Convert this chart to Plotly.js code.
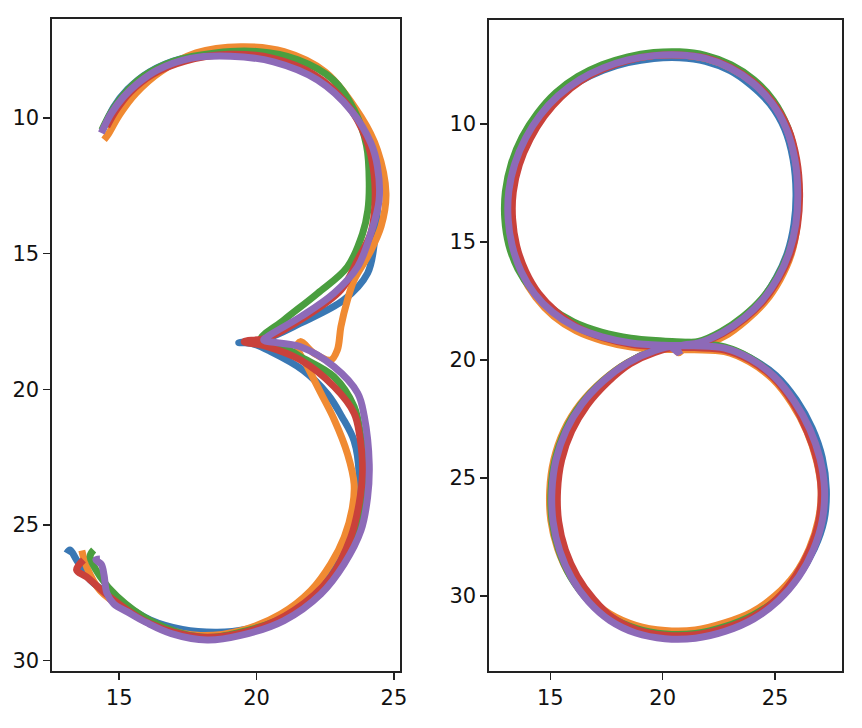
<!DOCTYPE html>
<html>
<head>
<meta charset="utf-8">
<script src="https://cdn.plot.ly/plotly-3.0.1.min.js"></script>
<style>html,body{margin:0;padding:0;background:#fff;}#chart{width:862px;height:728px;}</style>
</head>
<body>
<div id="chart"></div>
<script>
// ---- Digit "3" strokes (left panel) ----
const three_blue_x = [14.4,14.8,15.3,16.1,17.3,18.8,20.4,22.0,23.3,24.05,24.35,24.4,24.3,24.04,23.18,21.6,20.3,19.35,19.8,20.5,21.7,22.6,23.1,23.55,23.73,23.67,23.31,22.22,20.8,19.6,18.57,17.3,16.13,14.92,13.94,13.45,13.21,13.09];
const three_blue_y = [10.45,9.6,8.95,8.3,7.8,7.6,7.75,8.4,9.5,10.8,12.0,13.3,14.5,15.72,16.7,17.56,18.15,18.28,18.3,18.6,19.3,20.2,21.0,21.9,23.12,23.98,25.57,27.42,28.45,28.85,28.95,28.85,28.5,27.76,27.02,26.29,25.92,26.04];

const three_orange_x = [14.45,14.6,15.0,15.6,16.5,17.8,19.42,21.0,22.5,23.8,24.4,24.71,24.53,24.1,23.55,23.31,23.07,22.94,22.7,22.09,21.6,21.48,21.85,22.34,22.82,23.31,23.55,23.49,23.19,22.7,21.97,20.88,19.42,17.96,16.5,15.28,14.31,13.82,13.64];
const three_orange_y = [10.8,10.6,9.9,9.1,8.3,7.6,7.37,7.55,8.3,9.95,11.18,12.78,14.0,15.0,15.97,16.7,17.69,18.55,18.92,18.67,18.24,18.43,19.16,20.14,21.1,22.38,23.49,24.35,25.45,26.43,27.42,28.28,28.89,29.07,28.77,28.15,27.42,26.55,25.94];

const three_green_x = [14.37,14.7,15.2,15.9,17.0,18.5,20.0,21.5,22.8,23.55,24.0,24.1,24.05,23.86,23.31,22.22,21.0,20.15,21.0,21.6,22.81,23.55,23.8,23.92,23.8,23.43,22.58,21.24,19.42,17.96,16.13,14.92,14.31,13.94,14.07];
const three_green_y = [10.44,9.8,9.1,8.45,7.9,7.6,7.55,7.85,8.6,9.7,11.0,12.41,13.4,14.25,15.48,16.46,17.44,18.18,18.45,18.8,19.53,20.64,21.77,23.12,24.6,25.94,27.17,28.28,28.95,29.13,28.52,27.63,26.9,26.16,25.92];

const three_red_x = [14.55,14.9,15.4,16.2,17.4,19.0,20.6,22.1,23.3,24.0,24.28,24.3,24.16,23.68,23.07,21.6,20.4,19.55,20.3,21.6,22.82,23.55,23.75,23.86,23.73,23.43,22.7,21.36,19.78,17.96,16.13,14.67,13.82,13.45,13.7];
const three_red_y = [10.32,9.7,9.05,8.4,7.9,7.65,7.8,8.4,9.5,10.8,12.1,13.3,14.24,15.23,16.34,17.44,18.1,18.24,18.4,18.92,19.9,20.88,21.7,23.0,24.22,25.45,26.92,28.15,28.89,29.13,28.64,27.66,26.92,26.65,26.29];

const three_purple_x = [14.35,14.7,15.16,15.7,16.38,17.59,19.05,20.62,22.22,23.43,24.16,24.4,24.46,24.16,23.68,22.82,21.61,20.39,20.26,21.6,22.81,23.68,23.92,24.1,24.04,23.8,23.19,22.34,21.0,19.42,18.2,16.9,16.0,15.3,14.8,14.55,14.45,14.35,14.15,14.3];
const three_purple_y = [10.55,9.85,9.22,8.7,8.23,7.8,7.72,7.93,8.6,9.71,10.92,11.79,13.02,14.24,15.48,16.45,17.32,18.06,18.18,18.43,19.16,20.14,21.0,22.75,23.98,25.2,26.43,27.54,28.52,29.07,29.24,29.0,28.6,28.2,27.9,27.5,26.85,26.45,26.28,26.25];

// ---- Digit "8" strokes (right panel) ----
const eight_blue_x = [20.55,20.85,21.6,22.6,23.55,24.4,25.05,25.55,25.84,25.93,25.8,25.42,24.77,23.92,23.0,21.9,20.75,19.6,18.45,17.35,16.3,15.35,14.55,13.9,13.42,13.13,13.1,13.28,13.68,14.28,15.08,16.1,17.3,18.6,20.0,21.4,22.75,23.9,25.03,25.95,26.65,27.1,27.28,27.18,26.75,26.05,25.15,24.05,22.8,21.45,20.1,18.8,17.65,16.7,15.95,15.42,15.12,15.07,15.25,15.7,16.4,17.35,18.45,19.6,20.5,20.6];
const eight_blue_y = [19.6,19.35,19.28,18.85,18.22,17.45,16.52,15.45,14.25,12.94,11.5,10.2,9.15,8.35,7.74,7.34,7.19,7.22,7.4,7.72,8.2,8.85,9.65,10.6,11.68,12.85,14.0,15.15,16.25,17.2,17.98,18.6,19.02,19.26,19.35,19.38,19.48,19.92,20.65,21.7,22.9,24.15,25.5,26.8,28.0,29.15,30.12,30.88,31.4,31.7,31.72,31.5,31.0,30.22,29.22,28.1,26.85,25.55,24.25,23.0,21.88,20.9,20.12,19.62,19.45,19.6];

const eight_orange_x = [20.7,21.0,21.65,22.75,23.72,24.55,25.22,25.72,25.98,26.05,25.9,25.52,24.87,24.02,23.0,21.9,20.75,19.6,18.45,17.35,16.3,15.35,14.55,13.9,13.42,13.15,13.13,13.32,13.73,14.35,15.15,16.15,17.33,18.6,20.0,21.4,22.75,23.85,24.88,25.75,26.42,26.85,27.05,26.92,26.52,25.88,25.0,23.95,22.75,21.45,20.1,18.8,17.62,16.65,15.85,15.32,15.02,14.97,15.15,15.6,16.32,17.3,18.42,19.6,20.5,20.7];
const eight_orange_y = [19.7,19.5,19.42,19.0,18.32,17.55,16.6,15.52,14.3,12.96,11.5,10.2,9.1,8.25,7.62,7.22,7.07,7.1,7.28,7.62,8.12,8.8,9.62,10.6,11.7,12.9,14.08,15.25,16.38,17.35,18.15,18.77,19.19,19.45,19.55,19.57,19.65,20.08,20.8,21.85,23.05,24.3,25.55,26.8,28.0,29.1,30.0,30.7,31.15,31.45,31.47,31.25,30.75,30.0,29.1,28.0,26.8,25.55,24.25,23.0,21.88,20.9,20.12,19.62,19.45,19.7];

const eight_green_x = [20.6,20.9,21.6,22.6,23.58,24.42,25.1,25.62,25.95,26.05,25.92,25.55,24.92,24.05,23.05,21.9,20.75,19.6,18.45,17.3,16.22,15.25,14.42,13.75,13.27,13.0,12.97,13.15,13.56,14.17,15.0,16.05,17.27,18.58,20.0,21.4,22.75,23.9,24.92,25.8,26.47,26.92,27.12,27.02,26.62,26.0,25.12,24.02,22.8,21.45,20.1,18.8,17.63,16.66,15.9,15.38,15.08,15.03,15.21,15.66,16.37,17.33,18.44,19.6,20.5,20.6];
const eight_green_y = [19.5,19.28,19.22,18.8,18.16,17.4,16.46,15.4,14.2,12.9,11.45,10.12,9.0,8.12,7.49,7.09,6.94,6.97,7.15,7.49,7.99,8.67,9.55,10.55,11.65,12.85,14.0,15.12,16.15,17.02,17.78,18.4,18.82,19.08,19.2,19.28,19.45,19.92,20.68,21.73,22.95,24.2,25.5,26.8,28.02,29.15,30.12,30.82,31.3,31.6,31.62,31.38,30.88,30.15,29.2,28.08,26.85,25.55,24.25,23.0,21.88,20.9,20.12,19.62,19.45,19.6];

const eight_red_x = [20.6,20.95,21.62,22.68,23.66,24.5,25.17,25.7,26.0,26.09,25.96,25.58,24.9,24.03,23.02,21.9,20.75,19.6,18.47,17.4,16.38,15.48,14.73,14.1,13.62,13.35,13.32,13.5,13.9,14.48,15.27,16.22,17.38,18.65,20.03,21.42,22.77,23.9,24.93,25.78,26.4,26.85,27.05,26.95,26.55,25.92,25.08,24.02,22.8,21.45,20.12,18.85,17.77,16.93,16.2,15.67,15.37,15.32,15.5,15.95,16.64,17.55,18.55,19.65,20.55,20.7];
const eight_red_y = [19.55,19.38,19.3,18.88,18.25,17.48,16.54,15.47,14.27,12.95,11.5,10.18,9.08,8.22,7.6,7.2,7.07,7.1,7.3,7.65,8.16,8.85,9.67,10.64,11.72,12.88,14.02,15.16,16.24,17.18,17.97,18.62,19.07,19.35,19.45,19.48,19.58,20.02,20.76,21.8,22.98,24.22,25.5,26.8,28.02,29.15,30.13,30.88,31.36,31.65,31.67,31.44,30.93,30.15,29.18,28.07,26.85,25.55,24.25,23.02,21.92,20.95,20.17,19.68,19.5,19.65];

const eight_purple_x = [20.45,20.8,21.6,22.65,23.62,24.45,25.12,25.62,25.92,26.01,25.88,25.5,24.85,24.0,23.0,21.9,20.75,19.6,18.45,17.35,16.3,15.35,14.55,13.9,13.42,13.15,13.12,13.3,13.7,14.3,15.1,16.1,17.3,18.6,20.0,21.4,22.75,23.9,24.95,25.85,26.55,27.0,27.2,27.1,26.7,26.05,25.15,24.05,22.8,21.45,20.1,18.8,17.65,16.7,15.95,15.42,15.12,15.07,15.25,15.7,16.4,17.35,18.45,19.6,20.5,20.77];
const eight_purple_y = [19.7,19.4,19.28,18.85,18.22,17.45,16.52,15.45,14.25,12.94,11.5,10.2,9.1,8.25,7.62,7.22,7.07,7.1,7.28,7.62,8.12,8.8,9.62,10.6,11.68,12.85,14.0,15.15,16.25,17.2,17.98,18.6,19.02,19.28,19.38,19.4,19.5,19.95,20.7,21.75,22.95,24.2,25.5,26.8,28.05,29.2,30.2,30.98,31.5,31.8,31.82,31.58,31.05,30.25,29.25,28.1,26.85,25.55,24.25,23.0,21.88,20.9,20.12,19.62,19.45,19.78];

const xTicks = [15, 20, 25];
const yTicks = [10, 15, 20, 25, 30];
const colors = ['#3a78b4', '#f08a32', '#4a9e3f', '#c9413b', '#8d6ab8'];

const threeSeries = [[three_blue_x, three_blue_y],[three_orange_x, three_orange_y],[three_green_x, three_green_y],[three_red_x, three_red_y],[three_purple_x, three_purple_y]];
const eightSeries = [[eight_blue_x, eight_blue_y],[eight_orange_x, eight_orange_y],[eight_green_x, eight_green_y],[eight_red_x, eight_red_y],[eight_purple_x, eight_purple_y]];

const traces = [];
threeSeries.forEach((s, i) => traces.push({
  x: s[0], y: s[1], xaxis: 'x', yaxis: 'y', type: 'scatter', mode: 'lines',
  line: {color: colors[i], width: 7, shape: 'spline', smoothing: 1}, hoverinfo: 'skip'
}));
eightSeries.forEach((s, i) => traces.push({
  x: s[0], y: s[1], xaxis: 'x2', yaxis: 'y2', type: 'scatter', mode: 'lines',
  line: {color: colors[i], width: 7, shape: 'spline', smoothing: 1}, hoverinfo: 'skip'
}));

const axisBase = {
  showline: true, mirror: true, linecolor: '#222', linewidth: 1.6,
  ticks: 'outside', ticklen: 7, tickwidth: 1.5, tickcolor: '#222',
  showgrid: false, zeroline: false,
  tickfont: {family: 'DejaVu Sans, sans-serif', size: 21, color: '#111'},
  tickmode: 'array'
};

const layout = {
  width: 862, height: 728,
  margin: {l: 0, r: 0, t: 0, b: 0},
  paper_bgcolor: '#fff', plot_bgcolor: '#fff',
  showlegend: false,
  xaxis: Object.assign({}, axisBase, {domain: [52/862, 400/862], range: [12.555, 25.22], tickvals: xTicks, ticktext: xTicks.map(String), anchor: 'y'}),
  yaxis: Object.assign({}, axisBase, {domain: [1 - 671/728, 1 - 19/728], range: [30.38, 6.35], tickvals: yTicks, ticktext: yTicks.map(String), anchor: 'x'}),
  xaxis2: Object.assign({}, axisBase, {domain: [489/862, 842.3/862], range: [12.27, 27.99], tickvals: xTicks, ticktext: xTicks.map(String), anchor: 'y2'}),
  yaxis2: Object.assign({}, axisBase, {domain: [1 - 671/728, 1 - 20/728], range: [33.19, 5.59], tickvals: yTicks, ticktext: yTicks.map(String), anchor: 'x2'})
};

Plotly.newPlot('chart', traces, layout, {displayModeBar: false, staticPlot: true});
</script>
</body>
</html>
